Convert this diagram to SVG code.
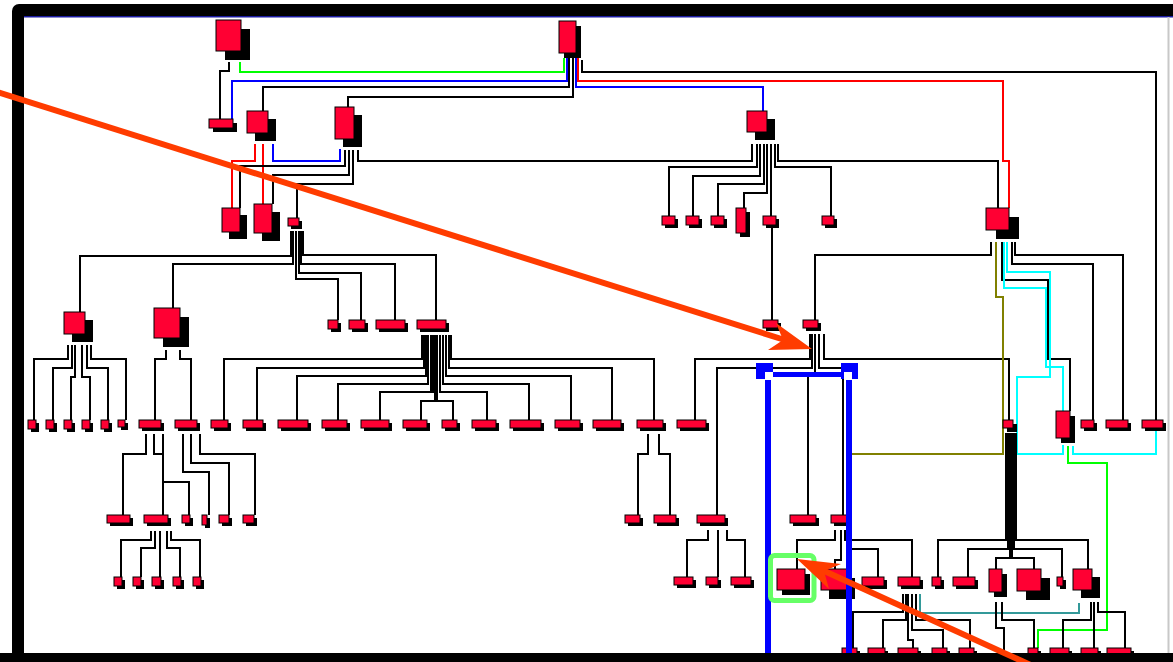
<svg xmlns="http://www.w3.org/2000/svg" width="1173" height="662" viewBox="0 0 1173 662">
<style>
.n{fill:#ff0033;stroke:#000;stroke-width:1}
.s{fill:#000}
.e{fill:none;stroke:#000;stroke-width:2}
.gr{fill:none;stroke:#00ff00;stroke-width:2}
.bl{fill:none;stroke:#0000ff;stroke-width:2}
.rd{fill:none;stroke:#ff0000;stroke-width:2}
.cy{fill:none;stroke:#00ffff;stroke-width:2}
.ol{fill:none;stroke:#808000;stroke-width:2}
.tl{fill:none;stroke:#339999;stroke-width:2}
.ar{fill:none;stroke:#ff3c00;stroke-width:6}
.ah{fill:#ff3c00}
.sel{fill:#0000ff}
</style>
<g id="frame">
<rect x="12" y="4" width="1170" height="670" rx="7" fill="#000"/>
<rect x="24" y="17" width="1149" height="636" fill="#fff"/>
<rect x="24" y="16" width="1149" height="1.5" fill="#1a1aa0"/>
<rect x="1167.5" y="17" width="2" height="636" fill="#c8c8c8"/>
</g>
<g id="connectors">
<path class="e" d="M229,62 V71 H220 V119"/>
<path class="gr" d="M240,62 V72 H564 V58"/>
<path class="bl" d="M232,119 V81 H567 V58"/>
<path class="e" d="M263,111 V87 H569 V58"/>
<path class="e" d="M348,107 V97 H573 V58"/>
<path class="bl" d="M576,58 V87 H763 V111"/>
<path class="rd" d="M578,58 V81 H1003 V161 H1009 V208"/>
<path class="e" d="M582,60 V72 H1156 V420"/>
<path class="rd" d="M255,144 V161 H232 V208"/>
<path class="rd" d="M263,144 V204"/>
<path class="bl" d="M273,144 V161 H340 V149"/>
<path class="e" d="M345,150 V166 H240 V208"/>
<path class="e" d="M349,150 V175 H273 V204"/>
<path class="e" d="M353,150 V184 H297 V218"/>
<path class="e" d="M358,150 V161 H752 V144"/>
<path class="e" d="M757,144 V167 H669 V216"/>
<path class="e" d="M760,144 V176 H693 V216"/>
<path class="e" d="M764,144 V184 H718 V216"/>
<path class="e" d="M767,144 V193 H744 V208"/>
<path class="e" d="M771,144 V216"/>
<path class="e" d="M775,144 V167 H831 V216"/>
<path class="e" d="M778,144 V161 H998 V208"/>
<path class="e" d="M772,228 V320"/>
<path class="e" d="M991,242 V255 H815 V320"/>
<path class="e" d="M1002,242 V280 H1048 V359 H1070 V411"/>
<path class="cy" d="M1004,242 V288 H1046 V367 H1063 V411"/>
<path class="cy" d="M1007,242 V272 H1050 V377 H1017 V454 H1063 V445"/>
<path class="e" d="M1012,242 V264 H1093 V420"/>
<path class="e" d="M1015,242 V255 H1123 V420"/>
<path class="cy" d="M1073,446 V454 H1156 V431"/>
<path class="gr" d="M1068,446 V463 H1107 V630 H1038 V648"/>
<path class="e" d="M810,334 V359 H695 V420"/>
<path class="e" d="M812,334 V368 H717 V515"/>
<path class="e" d="M815,334 V376 H808 V515"/>
<path class="e" d="M819,334 V368 H843 V515"/>
<path class="e" d="M824,334 V359 H1009 V420"/>
<rect x="1005" y="433" width="12" height="72" fill="#000"/>
<path class="e" d="M1006,433 V540 H938 V577"/>
<path class="e" d="M1008,433 V549 H968 V577"/>
<path class="e" d="M1010,433 V558 H996 V569"/>
<path class="e" d="M1012,433 V558 H1034 V569"/>
<path class="e" d="M1014,433 V549 H1062 V577"/>
<path class="e" d="M1016,433 V540 H1088 V569"/>
<path class="e" d="M422,335 V359 H224 V420"/>
<path class="e" d="M424,335 V368 H257 V420"/>
<path class="e" d="M426,335 V376 H297 V420"/>
<path class="e" d="M428,335 V384 H338 V420"/>
<path class="e" d="M431,335 V392 H380 V420"/>
<path class="e" d="M433,335 V393"/>
<path class="e" d="M435,335 V401 H421 V420"/>
<path class="e" d="M437,335 V401 H453 V420"/>
<path class="e" d="M440,335 V392 H487 V420"/>
<path class="e" d="M443,335 V384 H529 V420"/>
<path class="e" d="M446,335 V376 H571 V420"/>
<path class="e" d="M449,335 V368 H612 V420"/>
<path class="e" d="M451,335 V359 H654 V420"/>
<path class="e" d="M291,231 V256 H80 V312"/>
<path class="e" d="M293,231 V264 H173 V308"/>
<path class="e" d="M303,231 V255 H436 V320"/>
<path class="e" d="M301,231 V264 H395 V320"/>
<path class="e" d="M299,231 V273 H361 V320"/>
<path class="e" d="M296,231 V279 H338 V320"/>
<path class="e" d="M68,345 V359 H34 V420"/>
<path class="e" d="M72,345 V368 H53 V420"/>
<path class="e" d="M75,345 V377 H71 V420"/>
<path class="e" d="M82,345 V377 H90 V420"/>
<path class="e" d="M87,345 V368 H108 V420"/>
<path class="e" d="M91,345 V359 H126 V420"/>
<path class="e" d="M166,350 V359 H155 V420"/>
<path class="e" d="M180,350 V359 H191 V420"/>
<path class="e" d="M146,434 V454 H123 V515"/>
<path class="e" d="M154,434 V454 H163"/>
<path class="e" d="M163,434 V515"/>
<path class="e" d="M163,482 H189 V515"/>
<path class="e" d="M183,434 V472 H209 V515"/>
<path class="e" d="M191,434 V463 H229 V515"/>
<path class="e" d="M200,434 V454 H255 V515"/>
<path class="e" d="M151,531 V540 H121 V577"/>
<path class="e" d="M155,531 V548 H141 V577"/>
<path class="e" d="M160,531 V577"/>
<path class="e" d="M167,531 V548 H180 V577"/>
<path class="e" d="M171,531 V540 H200 V577"/>
<path class="e" d="M648,434 V454 H638 V515"/>
<path class="e" d="M659,434 V454 H670 V515"/>
<path class="e" d="M708,530 V540 H687 V577"/>
<path class="e" d="M718,530 V577"/>
<path class="e" d="M727,530 V540 H745 V577"/>
<path class="e" d="M835,530 V540 H797 V569"/>
<path class="e" d="M841,530 V560 H835 V569"/>
<path class="e" d="M845,530 V540 H912 V577"/>
<path class="e" d="M848,530 V549 H878 V577"/>
<path class="e" d="M903,594 V612 H853 V648"/>
<path class="e" d="M906,594 V620 H883 V648"/>
<path class="e" d="M908,594 V640 H913 V648"/>
<path class="e" d="M912,594 V630 H943 V648"/>
<path class="e" d="M916,594 V620 H970 V648"/>
<path class="tl" d="M920,594 V613 H1079 V603"/>
<path class="e" d="M996,602 V628 H1004 V655"/>
<path class="e" d="M1002,602 V620 H1034 V648"/>
<path class="e" d="M1091,602 V620 H1063 V648"/>
<path class="e" d="M1094,602 V648"/>
<path class="e" d="M1098,602 V612 H1125 V648"/>
<path class="ol" d="M996,242 V297 H1003 V454 H851 V600"/>
</g>
<g id="nodes">
<g id="n1"><rect class="s" x="225" y="29" width="25" height="31"/><rect class="n" x="216" y="20" width="25" height="31"/></g>
<g id="n2"><rect class="s" x="564" y="26" width="17" height="32"/><rect class="n" x="559" y="21" width="17" height="32"/></g>
<g id="n3"><rect class="s" x="213" y="123" width="24" height="9"/><rect class="n" x="209" y="119" width="24" height="9"/></g>
<g id="n4"><rect class="s" x="255" y="119" width="21" height="22"/><rect class="n" x="247" y="111" width="21" height="22"/></g>
<g id="n5"><rect class="s" x="343" y="115" width="19" height="32"/><rect class="n" x="335" y="107" width="19" height="32"/></g>
<g id="n6"><rect class="s" x="755" y="119" width="20" height="21"/><rect class="n" x="747" y="111" width="20" height="21"/></g>
<g id="n7"><rect class="s" x="229" y="215" width="18" height="24"/><rect class="n" x="222" y="208" width="18" height="24"/></g>
<g id="n8"><rect class="s" x="262" y="212" width="18" height="29"/><rect class="n" x="254" y="204" width="18" height="29"/></g>
<g id="n9"><rect class="s" x="291" y="221" width="11" height="8"/><rect class="n" x="288" y="218" width="11" height="8"/></g>
<g id="n10"><rect class="s" x="665" y="219" width="13" height="9"/><rect class="n" x="662" y="216" width="13" height="9"/></g>
<g id="n11"><rect class="s" x="689" y="219" width="13" height="9"/><rect class="n" x="686" y="216" width="13" height="9"/></g>
<g id="n12"><rect class="s" x="714" y="219" width="13" height="9"/><rect class="n" x="711" y="216" width="13" height="9"/></g>
<g id="n13"><rect class="s" x="740" y="212" width="10" height="25"/><rect class="n" x="736" y="208" width="10" height="25"/></g>
<g id="n14"><rect class="s" x="766" y="219" width="13" height="9"/><rect class="n" x="763" y="216" width="13" height="9"/></g>
<g id="n15"><rect class="s" x="825" y="219" width="12" height="9"/><rect class="n" x="822" y="216" width="12" height="9"/></g>
<g id="n16"><rect class="s" x="996" y="217" width="23" height="22"/><rect class="n" x="986" y="208" width="23" height="22"/></g>
<g id="n17"><rect class="s" x="72" y="320" width="21" height="22"/><rect class="n" x="64" y="312" width="21" height="22"/></g>
<g id="n18"><rect class="s" x="163" y="317" width="26" height="30"/><rect class="n" x="154" y="308" width="26" height="30"/></g>
<g id="n19"><rect class="s" x="331" y="323" width="10" height="9"/><rect class="n" x="328" y="320" width="10" height="9"/></g>
<g id="n20"><rect class="s" x="352" y="323" width="16" height="9"/><rect class="n" x="349" y="320" width="16" height="9"/></g>
<g id="n21"><rect class="s" x="379" y="323" width="29" height="9"/><rect class="n" x="376" y="320" width="29" height="9"/></g>
<g id="n22"><rect class="s" x="420" y="323" width="29" height="9"/><rect class="n" x="417" y="320" width="29" height="9"/></g>
<g id="n23"><rect class="s" x="766" y="323" width="15" height="8"/><rect class="n" x="763" y="320" width="15" height="8"/></g>
<g id="n24"><rect class="s" x="806" y="323" width="15" height="8"/><rect class="n" x="803" y="320" width="15" height="8"/></g>
<g id="n25"><rect class="s" x="31" y="423" width="8" height="9"/><rect class="n" x="28" y="420" width="8" height="9"/></g>
<g id="n26"><rect class="s" x="49" y="423" width="8" height="9"/><rect class="n" x="46" y="420" width="8" height="9"/></g>
<g id="n27"><rect class="s" x="67" y="423" width="8" height="9"/><rect class="n" x="64" y="420" width="8" height="9"/></g>
<g id="n28"><rect class="s" x="85" y="423" width="8" height="9"/><rect class="n" x="82" y="420" width="8" height="9"/></g>
<g id="n29"><rect class="s" x="104" y="423" width="8" height="9"/><rect class="n" x="101" y="420" width="8" height="9"/></g>
<g id="n30"><rect class="s" x="121" y="423" width="7" height="7"/><rect class="n" x="118" y="420" width="7" height="7"/></g>
<g id="n31"><rect class="s" x="142" y="423" width="22" height="8"/><rect class="n" x="139" y="420" width="22" height="8"/></g>
<g id="n32"><rect class="s" x="178" y="423" width="22" height="8"/><rect class="n" x="175" y="420" width="22" height="8"/></g>
<g id="n33"><rect class="s" x="214" y="423" width="17" height="8"/><rect class="n" x="211" y="420" width="17" height="8"/></g>
<g id="n34"><rect class="s" x="246" y="423" width="20" height="8"/><rect class="n" x="243" y="420" width="20" height="8"/></g>
<g id="n35"><rect class="s" x="281" y="423" width="30" height="8"/><rect class="n" x="278" y="420" width="30" height="8"/></g>
<g id="n36"><rect class="s" x="325" y="423" width="25" height="8"/><rect class="n" x="322" y="420" width="25" height="8"/></g>
<g id="n37"><rect class="s" x="364" y="423" width="28" height="8"/><rect class="n" x="361" y="420" width="28" height="8"/></g>
<g id="n38"><rect class="s" x="406" y="423" width="24" height="8"/><rect class="n" x="403" y="420" width="24" height="8"/></g>
<g id="n39"><rect class="s" x="445" y="423" width="15" height="8"/><rect class="n" x="442" y="420" width="15" height="8"/></g>
<g id="n40"><rect class="s" x="475" y="423" width="24" height="8"/><rect class="n" x="472" y="420" width="24" height="8"/></g>
<g id="n41"><rect class="s" x="513" y="423" width="31" height="8"/><rect class="n" x="510" y="420" width="31" height="8"/></g>
<g id="n42"><rect class="s" x="558" y="423" width="25" height="8"/><rect class="n" x="555" y="420" width="25" height="8"/></g>
<g id="n43"><rect class="s" x="596" y="423" width="28" height="8"/><rect class="n" x="593" y="420" width="28" height="8"/></g>
<g id="n44"><rect class="s" x="640" y="423" width="26" height="8"/><rect class="n" x="637" y="420" width="26" height="8"/></g>
<g id="n45"><rect class="s" x="680" y="423" width="29" height="8"/><rect class="n" x="677" y="420" width="29" height="8"/></g>
<g id="n46"><rect class="s" x="1007" y="424" width="10" height="8"/><rect class="n" x="1003" y="420" width="10" height="8"/></g>
<g id="n47"><rect class="s" x="1061" y="416" width="14" height="27"/><rect class="n" x="1056" y="411" width="14" height="27"/></g>
<g id="n48"><rect class="s" x="1084" y="423" width="13" height="8"/><rect class="n" x="1081" y="420" width="13" height="8"/></g>
<g id="n49"><rect class="s" x="1109" y="423" width="22" height="8"/><rect class="n" x="1106" y="420" width="22" height="8"/></g>
<g id="n50"><rect class="s" x="1145" y="423" width="21" height="8"/><rect class="n" x="1142" y="420" width="21" height="8"/></g>
<g id="n51"><rect class="s" x="110" y="518" width="23" height="8"/><rect class="n" x="107" y="515" width="23" height="8"/></g>
<g id="n52"><rect class="s" x="147" y="518" width="24" height="8"/><rect class="n" x="144" y="515" width="24" height="8"/></g>
<g id="n53"><rect class="s" x="185" y="518" width="8" height="8"/><rect class="n" x="182" y="515" width="8" height="8"/></g>
<g id="n54"><rect class="s" x="205" y="518" width="5" height="10"/><rect class="n" x="202" y="515" width="5" height="10"/></g>
<g id="n55"><rect class="s" x="222" y="518" width="10" height="8"/><rect class="n" x="219" y="515" width="10" height="8"/></g>
<g id="n56"><rect class="s" x="246" y="518" width="11" height="8"/><rect class="n" x="243" y="515" width="11" height="8"/></g>
<g id="n57"><rect class="s" x="628" y="518" width="15" height="8"/><rect class="n" x="625" y="515" width="15" height="8"/></g>
<g id="n58"><rect class="s" x="657" y="518" width="22" height="8"/><rect class="n" x="654" y="515" width="22" height="8"/></g>
<g id="n59"><rect class="s" x="700" y="518" width="28" height="8"/><rect class="n" x="697" y="515" width="28" height="8"/></g>
<g id="n60"><rect class="s" x="793" y="518" width="26" height="8"/><rect class="n" x="790" y="515" width="26" height="8"/></g>
<g id="n61"><rect class="s" x="834" y="518" width="16" height="8"/><rect class="n" x="831" y="515" width="16" height="8"/></g>
<g id="n62"><rect class="s" x="117" y="580" width="8" height="9"/><rect class="n" x="114" y="577" width="8" height="9"/></g>
<g id="n63"><rect class="s" x="136" y="580" width="8" height="9"/><rect class="n" x="133" y="577" width="8" height="9"/></g>
<g id="n64"><rect class="s" x="155" y="580" width="9" height="9"/><rect class="n" x="152" y="577" width="9" height="9"/></g>
<g id="n65"><rect class="s" x="176" y="580" width="8" height="9"/><rect class="n" x="173" y="577" width="8" height="9"/></g>
<g id="n66"><rect class="s" x="196" y="580" width="8" height="9"/><rect class="n" x="193" y="577" width="8" height="9"/></g>
<g id="n67"><rect class="s" x="677" y="580" width="19" height="8"/><rect class="n" x="674" y="577" width="19" height="8"/></g>
<g id="n68"><rect class="s" x="709" y="580" width="12" height="8"/><rect class="n" x="706" y="577" width="12" height="8"/></g>
<g id="n69"><rect class="s" x="734" y="580" width="20" height="8"/><rect class="n" x="731" y="577" width="20" height="8"/></g>
<g id="n70"><rect class="s" x="782" y="574" width="28" height="21"/><rect class="n" x="777" y="569" width="28" height="21"/></g>
<g id="n71"><rect class="s" x="829" y="578" width="26" height="21"/><rect class="n" x="821" y="569" width="26" height="21"/></g>
<g id="n72"><rect class="s" x="865" y="580" width="22" height="9"/><rect class="n" x="862" y="577" width="22" height="9"/></g>
<g id="n73"><rect class="s" x="901" y="580" width="22" height="9"/><rect class="n" x="898" y="577" width="22" height="9"/></g>
<g id="n74"><rect class="s" x="935" y="580" width="9" height="9"/><rect class="n" x="932" y="577" width="9" height="9"/></g>
<g id="n75"><rect class="s" x="956" y="580" width="22" height="9"/><rect class="n" x="953" y="577" width="22" height="9"/></g>
<g id="n76"><rect class="s" x="994" y="574" width="13" height="23"/><rect class="n" x="989" y="569" width="13" height="23"/></g>
<g id="n77"><rect class="s" x="1026" y="578" width="24" height="22"/><rect class="n" x="1017" y="569" width="24" height="22"/></g>
<g id="n78"><rect class="s" x="1060" y="580" width="6" height="9"/><rect class="n" x="1057" y="577" width="6" height="9"/></g>
<g id="n79"><rect class="s" x="1081" y="577" width="19" height="21"/><rect class="n" x="1073" y="569" width="19" height="21"/></g>
<g id="n80"><rect class="s" x="845" y="651" width="15" height="9"/><rect class="n" x="842" y="648" width="15" height="9"/></g>
<g id="n81"><rect class="s" x="871" y="651" width="17" height="9"/><rect class="n" x="868" y="648" width="17" height="9"/></g>
<g id="n82"><rect class="s" x="901" y="651" width="20" height="9"/><rect class="n" x="898" y="648" width="20" height="9"/></g>
<g id="n83"><rect class="s" x="935" y="651" width="15" height="9"/><rect class="n" x="932" y="648" width="15" height="9"/></g>
<g id="n84"><rect class="s" x="962" y="651" width="15" height="9"/><rect class="n" x="959" y="648" width="15" height="9"/></g>
<g id="n85"><rect class="s" x="1031" y="651" width="10" height="9"/><rect class="n" x="1028" y="648" width="10" height="9"/></g>
<g id="n86"><rect class="s" x="1053" y="651" width="19" height="9"/><rect class="n" x="1050" y="648" width="19" height="9"/></g>
<g id="n87"><rect class="s" x="1084" y="651" width="17" height="9"/><rect class="n" x="1081" y="648" width="17" height="9"/></g>
<g id="n88"><rect class="s" x="1110" y="651" width="24" height="9"/><rect class="n" x="1107" y="648" width="24" height="9"/></g>
</g>
<g id="selection">
<rect class="sel" x="756" y="363" width="17" height="16"/>
<rect x="765" y="372" width="8" height="8" fill="#fff"/>
<rect class="sel" x="841" y="363" width="17" height="16"/>
<rect x="844" y="372" width="8" height="8" fill="#fff"/>
<rect class="sel" x="773" y="372" width="71" height="5"/>
<rect class="sel" x="765" y="380" width="6" height="275"/>
<rect class="sel" x="846" y="380" width="6" height="275"/>
<rect x="770.5" y="555.5" width="43.5" height="45" rx="4" fill="none" stroke="#66ff66" stroke-width="5"/>
</g>
<rect x="0" y="653" width="1173" height="9" fill="#000"/>
<g id="annotations">
<path class="ar" d="M-5,91.4 L788,341"/>
<polygon class="ah" points="812,349 776,323 783,340 768,350"/>
<path class="ar" d="M1035,667 L822,570"/>
<polygon class="ah" points="797,559 841,564 824,571 829,589"/>
</g>
</svg>
